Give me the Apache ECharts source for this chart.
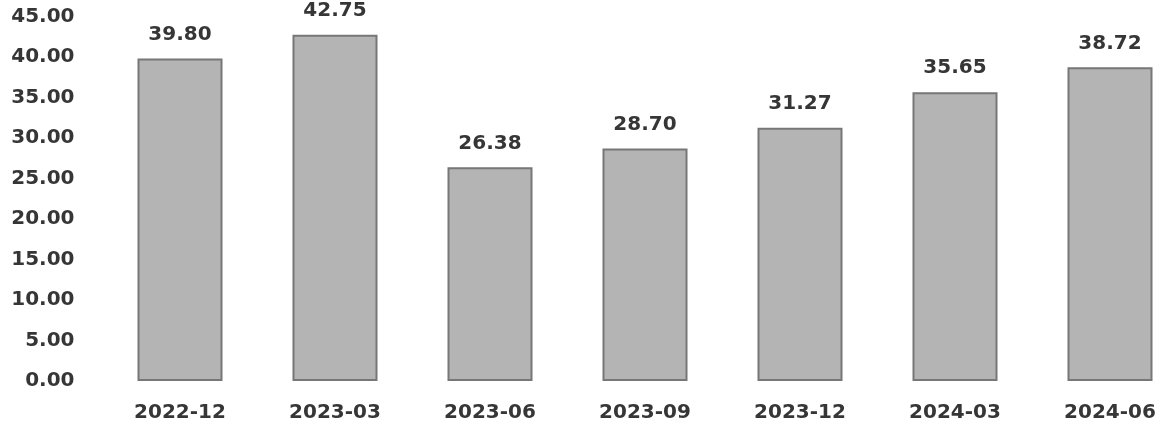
<!DOCTYPE html>
<html>
<head>
<meta charset="utf-8">
<script src="https://cdn.jsdelivr.net/npm/echarts@6/dist/echarts.min.js"></script>
<style>
  html, body { margin: 0; padding: 0; background: #ffffff; }
  #chart { width: 1161px; height: 430px; }
</style>
</head>
<body>
<div id="chart"></div>
<script>
// Quarter-end periods and their values
const periods = ['2022-12', '2023-03', '2023-06', '2023-09', '2023-12', '2024-03', '2024-06'];
const values = [39.80, 42.75, 26.38, 28.70, 31.27, 35.65, 38.72];

// Value axis range
const yMin = 0;
const yMax = 45;
const yStep = 5;

const textColor = '#363636';
const fontFamily = '"DejaVu Sans", Verdana, sans-serif';

const chart = echarts.init(document.getElementById('chart'), null, { renderer: 'canvas' });

chart.setOption({
  animation: false,
  backgroundColor: '#ffffff',
  grid: {
    left: 102.5,
    top: 16.5,
    width: 1085,
    bottom: 49,
    containLabel: false,
    outerBoundsMode: 'none'
  },
  xAxis: {
    type: 'category',
    data: periods,
    axisLine: { show: false },
    axisTick: { show: false },
    splitLine: { show: false },
    axisLabel: {
      color: textColor,
      fontFamily: fontFamily,
      fontWeight: 'bold',
      fontSize: 20,
      margin: 22,
      interval: 0
    }
  },
  yAxis: {
    type: 'value',
    min: yMin,
    max: yMax,
    interval: yStep,
    axisLine: { show: false },
    axisTick: { show: false },
    splitLine: { show: false },
    axisLabel: {
      color: textColor,
      fontFamily: fontFamily,
      fontWeight: 'bold',
      fontSize: 20,
      margin: 28,
      formatter: v => v.toFixed(2)
    }
  },
  series: [{
    type: 'bar',
    data: values,
    barWidth: 85,
    itemStyle: {
      color: '#b4b4b4',
      borderColor: '#777777',
      borderWidth: 2
    },
    label: {
      show: true,
      position: 'top',
      distance: 14,
      color: textColor,
      fontFamily: fontFamily,
      fontWeight: 'bold',
      fontSize: 20,
      formatter: p => p.value.toFixed(2)
    }
  }]
});
</script>
</body>
</html>
